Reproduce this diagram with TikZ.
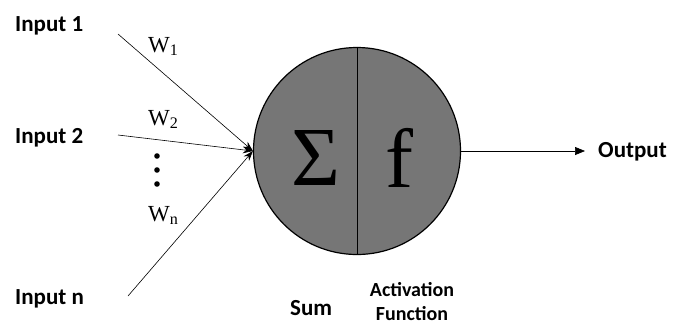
\documentclass[tikz,border=0pt]{standalone}
\usepackage{fontspec}
\setsansfont{Carlito}
\newfontfamily\symfont{Liberation Serif}
\usetikzlibrary{arrows.meta, positioning}
\definecolor{cellgray}{RGB}{118,118,118}

\begin{document}
\begin{tikzpicture}[x=1pt, y=-1pt,
  label text/.style={font=\sffamily\bfseries\fontsize{23}{27}\selectfont, inner sep=0pt},
  weight text/.style={font=\symfont\fontsize{23}{27}\selectfont, inner sep=0pt},
  wire/.style={line width=0.6pt, -{Stealth[length=10pt,width=7pt]}}]
\useasboundingbox (0,0) rectangle (684,325);

% Neurona
\node[circle, draw, line width=1.2pt, fill=cellgray, minimum size=207pt, inner sep=0pt] (neuron) at (357,151) {};
\draw[line width=0.6pt] (neuron.north) -- (neuron.south);
\node[font=\symfont\fontsize{84}{84}\selectfont, inner sep=0pt] (sigma) at (316,158) {Σ};
\node[font=\symfont\fontsize{84}{84}\selectfont, inner sep=0pt] (func) at (399,158) {f};

% Entradas
\node[label text, anchor=base west] (in1) at (15,31) {Input 1};
\node[label text, anchor=base west] (in2) at (15,143) {Input 2};
\node[label text, anchor=base west] (inn) at (15,304) {Input n};
\coordinate (s1) at (118,34);
\coordinate (s2) at (118,135);
\coordinate (sn) at (128,296);

% Pesos
\node[weight text, anchor=base west] (w1) at (148,52) {W\textsubscript{1}};
\node[weight text, anchor=base west] (w2) at (148,125) {W\textsubscript{2}};
\node[weight text, anchor=base west] (wn) at (148,221) {W\textsubscript{n}};
\foreach \y in {156,170,184} {
  \fill (157,\y) circle (2.8pt);
}

\draw[wire] (s1) -- (neuron.west);
\draw[wire] (s2) -- (neuron.west);
\draw[wire] (sn) -- (neuron.west);

% Salida
\node[label text, anchor=base west] (out) at (598,157) {Output};
\draw[line width=0.7pt, -{Triangle[length=10pt,width=8pt]}] (neuron.east) -- ([xshift=-13pt]out.west |- neuron.east);

% Etiquetas
\node[label text, anchor=base west] (sum) at (290,315) {Sum};
\node[label text, font=\sffamily\bfseries\fontsize{20}{24}\selectfont, align=center, anchor=base] (act) at (412,320) {Activation\\Function};
\end{tikzpicture}
\end{document}
